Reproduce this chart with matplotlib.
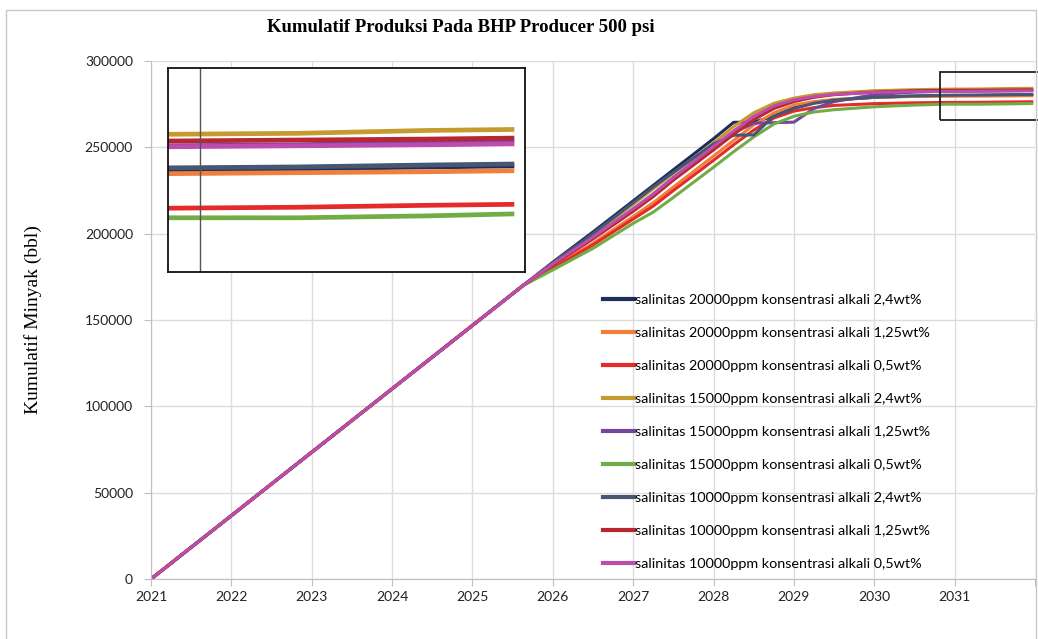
import matplotlib.pyplot as plt
from matplotlib.patches import Rectangle

# time axis (years) shared by every run
tahun = [2021.0, 2025.63, 2026.0, 2026.5, 2027.0, 2027.25, 2027.5, 2028.0, 2028.25, 2028.5,
         2028.75, 2029.0, 2029.25, 2029.5, 2030.0, 2030.5, 2030.9, 2031.3, 2031.7, 2031.96]

# cumulative oil per run (bbl)
s20_24 = [0, 170000, 183500, 201000, 219000, 228000, 237000, 255000, 264500, 264600,
          268000, 273000, 276000, 277500, 279000, 279700, 280000, 280100, 280300, 280400]
s20_125 = [0, 170000, 180500, 194500, 210000, 218000, 227000, 245000, 254000, 263000,
           270000, 274500, 276500, 277800, 278900, 279500, 279600, 279700, 279800, 279900]
s20_05 = [0, 170000, 180000, 193500, 208500, 216000, 225000, 242500, 251500, 260000,
          267000, 271000, 273000, 274300, 275300, 275800, 276000, 276100, 276300, 276400]
s15_24 = [0, 170000, 183000, 199500, 217000, 226000, 235000, 252500, 262000, 270000,
          275500, 278500, 280500, 281500, 282800, 283400, 283700, 283800, 284100, 284200]
s15_125 = [0, 170000, 182000, 197500, 214000, 223000, 232500, 250000, 258500, 264000,
           264300, 264600, 272500, 276500, 280500, 282000, 282500, 282600, 282900, 283000]
s15_05 = [0, 170000, 179000, 191500, 206000, 212500, 221000, 238500, 247500, 256000,
          263500, 268000, 270500, 271800, 273500, 274500, 275000, 275000, 275200, 275400]
s10_24 = [0, 170000, 183000, 200000, 218000, 227000, 235500, 252000, 257000, 257200,
          268000, 272500, 275500, 277300, 279000, 279800, 280200, 280300, 280500, 280600]
s10_125 = [0, 170000, 182000, 197000, 213000, 221500, 231000, 248500, 257500, 266000,
           272500, 276500, 279000, 280500, 282000, 282800, 283000, 283100, 283200, 283300]
s10_05 = [0, 170000, 182500, 198000, 214500, 223000, 232500, 250500, 259500, 268000,
          274000, 277500, 279500, 280700, 281800, 282300, 282400, 282500, 282600, 282700]

labels = [
    "salinitas 20000ppm konsentrasi alkali 2,4wt%",
    "salinitas 20000ppm konsentrasi alkali 1,25wt%",
    "salinitas 20000ppm konsentrasi alkali 0,5wt%",
    "salinitas 15000ppm konsentrasi alkali 2,4wt%",
    "salinitas 15000ppm konsentrasi alkali 1,25wt%",
    "salinitas 15000ppm konsentrasi alkali 0,5wt%",
    "salinitas 10000ppm konsentrasi alkali 2,4wt%",
    "salinitas 10000ppm konsentrasi alkali 1,25wt%",
    "salinitas 10000ppm konsentrasi alkali 0,5wt%",
]
series = [s20_24, s20_125, s20_05, s15_24, s15_125, s15_05, s10_24, s10_125, s10_05]
colors = ["#1F2D5C", "#F07F3C", "#E52A2A", "#C59A2E", "#7446A0",
          "#71AC45", "#475672", "#B8272F", "#BE4BAE"]

fig = plt.figure(figsize=(10.38, 6.39), dpi=100)

# light frame around the whole chart
fig.patches.append(Rectangle((6 / 1038, -0.05), 1030 / 1038, 1.034, transform=fig.transFigure,
                             fill=False, edgecolor="#C8C8C8", lw=1))

ax = fig.add_axes([0.1455, 0.0939, 0.8516, 0.8106])
for y, c, lab in zip(series, colors, labels):
    ax.plot(tahun, y, color=c, lw=2.2, label=lab)

ax.set_xlim(2021, 2032)
ax.set_ylim(0, 300000)
ax.set_xticks(range(2021, 2033))
ax.set_xticklabels([str(t) for t in range(2021, 2032)] + [""])
ax.set_yticks(range(0, 300001, 50000))
ax.grid(True, color="#DCDCDC", lw=1)
ax.set_axisbelow(True)
for s in ["top", "right"]:
    ax.spines[s].set_visible(False)
for s in ["left", "bottom"]:
    ax.spines[s].set_color("#BFBFBF")
ax.tick_params(colors="#BFBFBF", length=5, labelcolor="#222222", labelsize=10)
ax.tick_params(axis="y", pad=8)
for lbl in ax.get_xticklabels() + ax.get_yticklabels():
    lbl.set_family("Lato")

fig.text(33 / 1038, 1 - 320 / 639, "Kumulatif Minyak (bbl)", rotation=90, ha="center",
         va="center", family="Liberation Serif", fontsize=14)
fig.text(461 / 1038, 1 - 27 / 639, "Kumulatif Produksi Pada BHP Producer 500 psi", ha="center",
         va="center", family="Liberation Serif", weight="bold", fontsize=13.5)

leg = ax.legend(loc="upper left", bbox_to_anchor=(0.505, 0.561), frameon=False,
                prop={"family": "Lato", "size": 10.4}, handlelength=2.1, handletextpad=0.1,
                labelspacing=1.44, borderaxespad=0)
for h in leg.legend_handles:
    h.set_linewidth(3)

# marked zoom window at the end of the forecast
ax.add_patch(Rectangle((2030.82, 265800), 1.4, 27800, fill=False, edgecolor="#222222",
                       lw=1.3, clip_on=False, zorder=5))

# zoomed view of the plateau
axin = fig.add_axes([0.1618, 0.5743, 0.3439, 0.3192])
for y, c in zip(series, colors):
    axin.plot(tahun, y, color=c, lw=3.4)
axin.axvline(2031, color="#555555", lw=1)
axin.set_xlim(2030.9, 2032.0)
axin.set_ylim(269350, 290600)
axin.set_xticks([])
axin.set_yticks([])
for s in axin.spines.values():
    s.set_color("#111111")
    s.set_linewidth(1.3)

fig.savefig("out.png", dpi=100)
